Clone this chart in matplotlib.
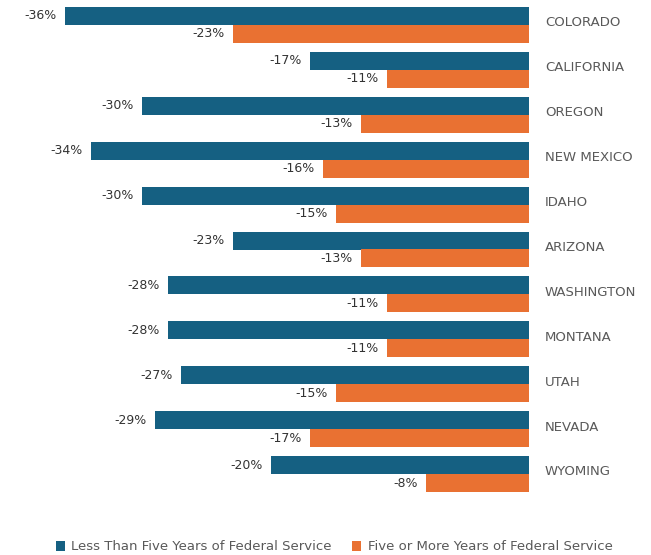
import matplotlib
matplotlib.use("Agg")
import matplotlib.pyplot as plt
from matplotlib.transforms import blended_transform_factory
import numpy as np

states = ["COLORADO", "CALIFORNIA", "OREGON", "NEW MEXICO", "IDAHO", "ARIZONA",
          "WASHINGTON", "MONTANA", "UTAH", "NEVADA", "WYOMING"]
less_than_five = [-36, -17, -30, -34, -30, -23, -28, -28, -27, -29, -20]
five_or_more = [-23, -11, -13, -16, -15, -13, -11, -11, -15, -17, -8]
series_names = ["Less Than Five Years of Federal Service",
                "Five or More Years of Federal Service"]

BLUE = "#156082"
ORANGE = "#E97132"

W, H = 651, 555
fig = plt.figure(figsize=(W / 100, H / 100), dpi=100)
left, right = 45.7 / W, 529 / W
top, bottom = 1 - 2.5 / H, 1 - 496.5 / H
ax = fig.add_axes([left, bottom, right - left, top - bottom])

y = np.arange(len(states))
h = 0.4
b1 = ax.barh(y - h / 2, less_than_five, height=h, color=BLUE, label=series_names[0])
b2 = ax.barh(y + h / 2, five_or_more, height=h, color=ORANGE, label=series_names[1])

ax.set_xlim(-37.5, 0)
ax.set_ylim(len(states) - 0.5, -0.5)
ax.axis("off")

for bars, vals in ((b1, less_than_five), (b2, five_or_more)):
    for bar, v in zip(bars, vals):
        ax.annotate(f"{v}%", xy=(v, bar.get_y() + bar.get_height() / 2),
                    xytext=(-6, 0), textcoords="offset points",
                    ha="right", va="center", fontsize=9, color="#333333")

trans = blended_transform_factory(ax.transAxes, ax.transData)
for yi, s in zip(y, states):
    ax.annotate(s, xy=(1, yi), xycoords=trans, xytext=(11.5, 1.5),
                textcoords="offset points", ha="left", va="center",
                fontsize=9.5, color="#595959", annotation_clip=False)

fig.legend(handles=[b1, b2], labels=series_names, loc="center",
           bbox_to_anchor=(334 / W, 1 - 547 / H), ncol=2, frameon=False,
           fontsize=9.5, handlelength=0.7, handleheight=0.7, handletextpad=0.5,
           columnspacing=1.5, labelcolor="#595959")

fig.savefig("out.png", dpi=100)
